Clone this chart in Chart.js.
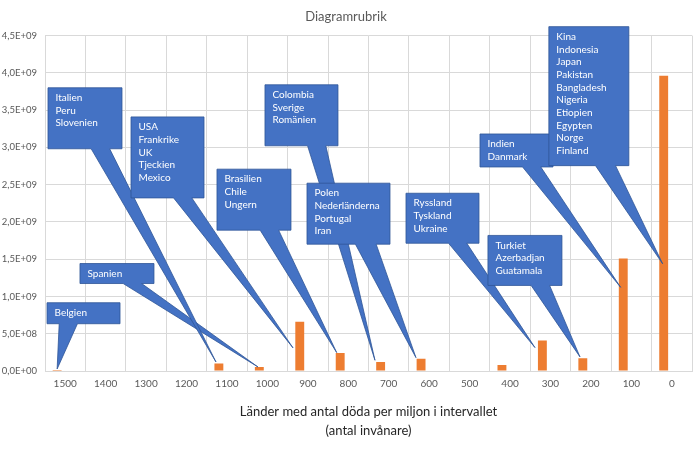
<!DOCTYPE html>
<html>
<head>
<meta charset="utf-8">
<script src="https://cdn.jsdelivr.net/npm/chart.js@4/dist/chart.umd.min.js"></script>
<style>
  html, body { margin: 0; padding: 0; background: #fff; }
  #wrap { width: 700px; height: 456px; position: relative; }
</style>
</head>
<body>
<div id="wrap"><canvas id="c"></canvas></div>
<script>
// ---- data ----
const categories = ['1500','1400','1300','1200','1100','1000','900','800','700','600','500','400','300','200','100','0'];
const population = [1.2e7, null, null, null, 1.0e8, 5.2e7, 6.6e8, 2.43e8, 1.22e8, 1.63e8, null, 8.0e7, 4.1e8, 1.7e8, 1.51e9, 3.96e9];
const emptySeries = [null, null, null, null, null, null, null, null, null, null, null, null, null, null, null, null];
const yTickMin = 0, yTickMax = 4.5e9, yTickStep = 5e8;
const chartTitle = 'Diagramrubrik';
const xAxisTitle = ['Länder med antal döda per miljon i intervallet', '(antal invånare)'];

// callout texts
const calloutLabels = [
  ['Belgien'],
  ['Spanien'],
  ['Italien', 'Peru', 'Slovenien'],
  ['USA', 'Frankrike', 'UK', 'Tjeckien', 'Mexico'],
  ['Brasilien', 'Chile', 'Ungern'],
  ['Colombia', 'Sverige', 'Romänien'],
  ['Polen', 'Nederländerna', 'Portugal', 'Iran'],
  ['Ryssland', 'Tyskland', 'Ukraine'],
  ['Turkiet', 'Azerbadjan', 'Guatamala'],
  ['Indien', 'Danmark'],
  ['Kina', 'Indonesia', 'Japan', 'Pakistan', 'Bangladesh', 'Nigeria', 'Etiopien', 'Egypten', 'Norge', 'Finland']
];
// callout layout: box anchor (category position, value), box size (px), wedge tip (category position, value)
const calloutLayout = [
  { bx: -0.45, by: 0.916e9, w: 73, h: 21, tx: -0.20, ty: 0.027e9 },
  { bx: 0.365, by: 1.442e9, w: 74, h: 20, tx: 4.767, ty: 0.054e9 },
  { bx: -0.426, by: 3.80e9, w: 74, h: 61, tx: 3.728, ty: 0.121e9 },
  { bx: 1.627, by: 3.409e9, w: 73, h: 81, tx: 5.633, ty: 0.31e9 },
  { bx: 3.753, by: 2.708e9, w: 74, h: 61, tx: 6.713, ty: 0.247e9 },
  { bx: 4.94, by: 3.84e9, w: 73, h: 61, tx: 7.66, ty: 0.144e9 },
  { bx: 5.979, by: 2.52e9, w: 83, h: 61, tx: 8.674, ty: 0.179e9 },
  { bx: 8.427, by: 2.385e9, w: 73, h: 50, tx: 11.617, ty: 0.314e9 },
  { bx: 10.454, by: 1.819e9, w: 74, h: 50, tx: 12.73, ty: 0.189e9 },
  { bx: 10.257, by: 3.18e9, w: 73, h: 33, tx: 13.736, ty: 1.122e9 },
  { bx: 11.96, by: 4.62e9, w: 80, h: 139, tx: 14.774, ty: 1.438e9 }
];

const FONT = 'Lato, "Open Sans", sans-serif';

function sciLabel(v) {
  if (v === 0) return '0,0E+00';
  const e = Math.floor(Math.log10(Math.abs(v)) + 1e-9);
  const m = v / Math.pow(10, e);
  return m.toFixed(1).replace('.', ',') + 'E+' + String(e).padStart(2, '0');
}

const calloutPlugin = {
  id: 'callouts',
  afterDatasetsDraw(chart) {
    const { ctx, scales: { x, y } } = chart;
    ctx.save();
    calloutLayout.forEach((c, i) => {
      const l = x.getPixelForValue(c.bx), t = y.getPixelForValue(c.by);
      const r = l + c.w, b = t + c.h;
      const px = x.getPixelForValue(c.tx), py = y.getPixelForValue(c.ty);
      const cx = (l + r) / 2;
      const b1 = px > cx ? l + c.w * 7 / 12 : l + c.w * 2 / 12;
      const b2 = px > cx ? l + c.w * 10 / 12 : l + c.w * 5 / 12;
      ctx.beginPath();
      ctx.moveTo(l, t);
      ctx.lineTo(r, t);
      ctx.lineTo(r, b);
      ctx.lineTo(b2, b);
      ctx.lineTo(px, py);
      ctx.lineTo(b1, b);
      ctx.lineTo(l, b);
      ctx.closePath();
      ctx.fillStyle = '#4472C4';
      ctx.fill();
      ctx.lineWidth = 0.8;
      ctx.strokeStyle = '#2F5597';
      ctx.stroke();
      ctx.fillStyle = '#ffffff';
      ctx.font = '10px ' + FONT;
      ctx.textBaseline = 'middle';
      ctx.textAlign = 'left';
      calloutLabels[i].forEach((s, k) => {
        ctx.fillText(s, l + 7.5, t + 10 + k * 12.7);
      });
    });
    ctx.restore();
  }
};

new Chart(document.getElementById('c'), {
  type: 'bar',
  data: {
    labels: categories,
    datasets: [
      { data: population, backgroundColor: '#ED7D31', borderWidth: 0,
        categoryPercentage: 0.8, barPercentage: 0.55 },
      { data: emptySeries, backgroundColor: '#A5A5A5', borderWidth: 0,
        categoryPercentage: 0.8, barPercentage: 0.55 }
    ]
  },
  options: {
    responsive: true,
    maintainAspectRatio: false,
    animation: false,
    devicePixelRatio: 1,
    layout: { padding: { left: 0, right: 8, top: 0, bottom: 15 } },
    plugins: {
      legend: { display: false },
      tooltip: { enabled: false },
      title: {
        display: true,
        text: chartTitle,
        color: '#595959',
        font: { family: FONT, size: 13, weight: 'normal' },
        padding: { top: 9, bottom: 11 }
      }
    },
    scales: {
      x: {
        grid: { color: '#D9D9D9', lineWidth: 1, drawTicks: false, offset: true },
        border: { color: '#D9D9D9' },
        ticks: { color: '#595959', font: { family: FONT, size: 10 }, padding: 7, maxRotation: 0, autoSkip: false },
        title: {
          display: true,
          text: xAxisTitle,
          color: '#262626',
          font: { family: FONT, size: 13, weight: 'normal', lineHeight: 1.5 },
          padding: { top: 5, bottom: 0 }
        }
      },
      y: {
        min: yTickMin,
        max: yTickMax,
        afterFit: (scale) => { scale.width = 45; },
        grid: { color: '#D9D9D9', lineWidth: 1, drawTicks: false },
        border: { display: false },
        ticks: { stepSize: yTickStep, color: '#595959', font: { family: FONT, size: 9.5 }, padding: 8,
          callback: (v) => sciLabel(v) }
      }
    }
  },
  plugins: [calloutPlugin]
});
</script>
</body>
</html>
